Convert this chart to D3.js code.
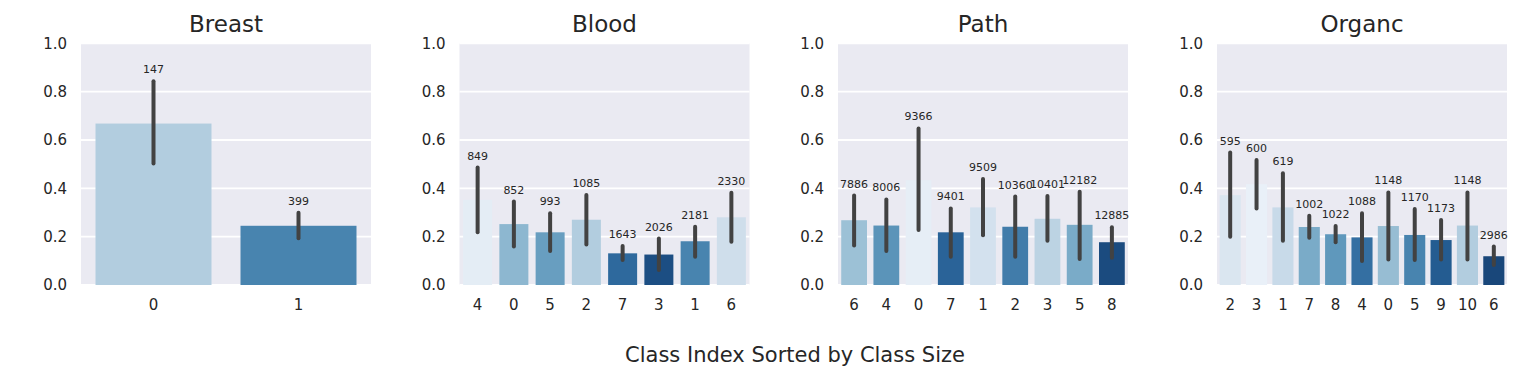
<!DOCTYPE html>
<html>
<head>
<meta charset="utf-8">
<script src="https://cdn.jsdelivr.net/npm/d3@7"></script>
<style>
  body { margin: 0; background: #fff; }
  text { font-family: "DejaVu Sans", sans-serif; fill: #262626; }
</style>
</head>
<body>
<div id="chart"></div>
<script>
// per-class accuracy, classes sorted by class size
var titles = ["Breast", "Blood", "Path", "Organc"];

var breastClasses = ["0", "1"];
var breastMean    = [0.668, 0.245];
var breastLo      = [0.503, 0.193];
var breastHi      = [0.843, 0.299];
var breastCount   = [147, 399];

var bloodClasses = ["4", "0", "5", "2", "7", "3", "1", "6"];
var bloodMean    = [0.352, 0.252, 0.218, 0.270, 0.131, 0.126, 0.181, 0.280];
var bloodLo      = [0.218, 0.159, 0.141, 0.168, 0.103, 0.062, 0.117, 0.179];
var bloodHi      = [0.486, 0.345, 0.297, 0.372, 0.161, 0.192, 0.241, 0.382];
var bloodCount   = [849, 852, 993, 1085, 1643, 2026, 2181, 2330];

var pathClasses = ["6", "4", "0", "7", "1", "2", "3", "5", "8"];
var pathMean    = [0.268, 0.246, 0.434, 0.218, 0.321, 0.241, 0.274, 0.249, 0.177];
var pathLo      = [0.163, 0.141, 0.228, 0.117, 0.206, 0.117, 0.183, 0.108, 0.113];
var pathHi      = [0.370, 0.354, 0.648, 0.317, 0.439, 0.366, 0.368, 0.386, 0.239];
var pathCount   = [7886, 8006, 9366, 9401, 9509, 10360, 10401, 12182, 12885];

var organcClasses = ["2", "3", "1", "7", "8", "4", "0", "5", "9", "10", "6"];
var organcMean    = [0.372, 0.417, 0.321, 0.240, 0.210, 0.197, 0.244, 0.207, 0.186, 0.246, 0.119];
var organcLo      = [0.200, 0.317, 0.183, 0.196, 0.177, 0.099, 0.106, 0.103, 0.106, 0.106, 0.083];
var organcHi      = [0.548, 0.517, 0.462, 0.286, 0.244, 0.297, 0.383, 0.314, 0.269, 0.383, 0.159];
var organcCount   = [595, 600, 619, 1002, 1022, 1088, 1148, 1170, 1173, 1148, 2986];

var yTicks = [0, 0.2, 0.4, 0.6, 0.8, 1.0];
var xLabel = "Class Index Sorted by Class Size";

var sets = [
  [breastClasses, breastMean, breastLo, breastHi, breastCount],
  [bloodClasses, bloodMean, bloodLo, bloodHi, bloodCount],
  [pathClasses, pathMean, pathLo, pathHi, pathCount],
  [organcClasses, organcMean, organcLo, organcHi, organcCount]
];

var W = 1522, H = 381;
var svg = d3.select("#chart").append("svg")
  .attr("width", W).attr("height", H);

var panelLeft = [81, 459.5, 838, 1217];
var pw = 290;
var plotTop = 43.3, plotBottom = 285;

var y = d3.scaleLinear().domain([0, 1]).range([plotBottom, plotTop]);

// seaborn desaturates bar colours to 0.75
function desat(c) {
  var h = d3.hsl(c);
  h.s *= 0.75;
  return h.formatHex();
}

sets.forEach(function(s, p) {
  var cls = s[0], mean = s[1], lo = s[2], hi = s[3], cnt = s[4];
  var n = cls.length;
  var g = svg.append("g").attr("transform", "translate(" + panelLeft[p] + ",0)");

  var x = d3.scaleBand().domain(cls).range([0, pw]).paddingInner(0.2).paddingOuter(0.1);

  // rank by value: highest gets lightest blue
  var order = d3.range(n).sort(function(a, b) { return mean[b] - mean[a]; });
  var rank = [];
  order.forEach(function(idx, r) { rank[idx] = r; });
  var col = function(i) { return desat(d3.interpolateBlues((rank[i] + 1) / (n + 1))); };

  g.append("rect").attr("x", 0).attr("y", plotTop).attr("width", pw).attr("height", plotBottom - plotTop)
    .attr("fill", "#eaeaf2");

  g.selectAll("line.grid").data(yTicks).enter().append("line")
    .attr("class", "grid")
    .attr("x1", 0).attr("x2", pw)
    .attr("y1", function(d) { return y(d); }).attr("y2", function(d) { return y(d); })
    .attr("stroke", "#fff").attr("stroke-width", 1.8);

  g.selectAll("rect.bar").data(cls).enter().append("rect")
    .attr("class", "bar")
    .attr("x", function(d) { return x(d); })
    .attr("width", x.bandwidth())
    .attr("y", function(d, i) { return y(mean[i]); })
    .attr("height", function(d, i) { return y(0) - y(mean[i]); })
    .attr("fill", function(d, i) { return col(i); });

  g.selectAll("line.err").data(cls).enter().append("line")
    .attr("class", "err")
    .attr("x1", function(d) { return x(d) + x.bandwidth() / 2; })
    .attr("x2", function(d) { return x(d) + x.bandwidth() / 2; })
    .attr("y1", function(d, i) { return y(lo[i]); })
    .attr("y2", function(d, i) { return y(hi[i]); })
    .attr("stroke", "#424242").attr("stroke-width", 4).attr("stroke-linecap", "round");

  g.selectAll("text.cnt").data(cls).enter().append("text")
    .attr("class", "cnt")
    .attr("x", function(d) { return x(d) + x.bandwidth() / 2; })
    .attr("y", function(d, i) { return y(hi[i]) - 8; })
    .attr("text-anchor", "middle").attr("font-size", 11)
    .text(function(d, i) { return cnt[i]; });

  // y axis (no tick marks, darkgrid style)
  var ya = g.append("g").call(d3.axisLeft(y).tickValues(yTicks).tickFormat(d3.format(".1f")).tickSize(0).tickPadding(14));
  ya.select(".domain").remove();
  ya.attr("font-size", 15).attr("font-family", "DejaVu Sans");
  ya.selectAll("text").attr("fill", "#262626");

  var xa = g.append("g").attr("transform", "translate(0," + plotBottom + ")")
    .call(d3.axisBottom(x).tickSize(0).tickPadding(14));
  xa.select(".domain").remove();
  xa.attr("font-size", 15).attr("font-family", "DejaVu Sans");
  xa.selectAll("text").attr("fill", "#262626");

  g.append("text").attr("x", pw / 2).attr("y", 32)
    .attr("text-anchor", "middle").attr("font-size", 23)
    .text(titles[p]);
});

svg.append("text").attr("x", 795).attr("y", 362)
  .attr("text-anchor", "middle").attr("font-size", 21)
  .text(xLabel);
</script>
</body>
</html>
